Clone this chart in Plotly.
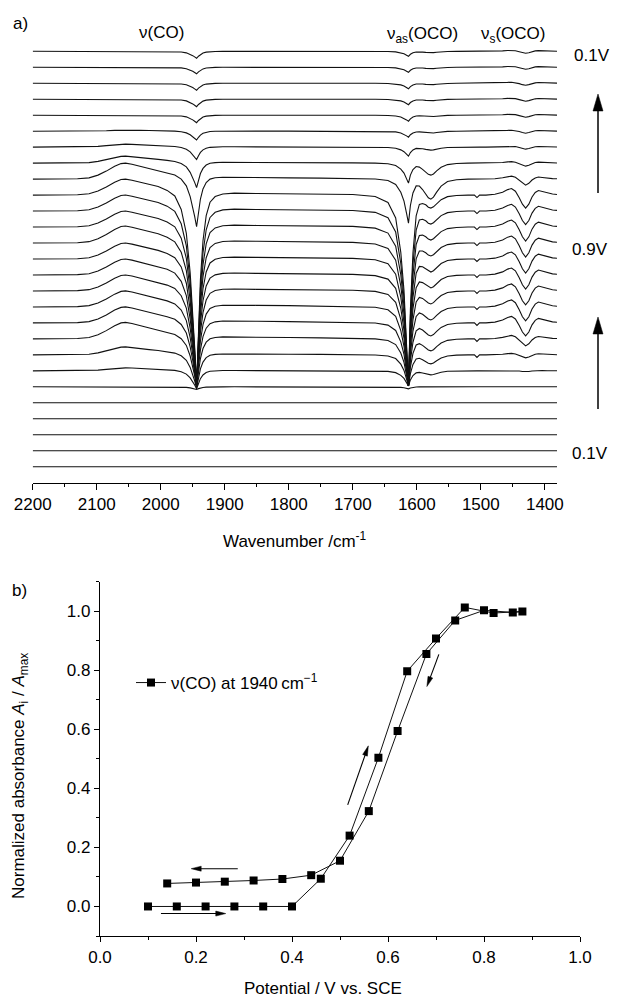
import plotly.graph_objects as go
import numpy as np

W, H = 617, 1001
def px(x): return x / W
def py(y): return 1 - y / H

FONT = "Liberation Sans"

# ---------------- panel a) : stacked IR spectra ----------------
WN = [2200, 2160, 2130, 2112, 2098, 2085, 2072, 2062, 2055, 2045,
      2032, 2018, 2004, 1990, 1978, 1968, 1960, 1954, 1950, 1947,
      1944, 1941, 1938, 1934, 1929, 1923, 1915, 1903, 1885, 1850,
      1800, 1750, 1700, 1665, 1645, 1633, 1625, 1620, 1616, 1613,
      1610, 1606, 1601, 1596, 1591, 1586, 1582, 1578, 1574, 1569,
      1562, 1552, 1538, 1520, 1510, 1506, 1502, 1492, 1478, 1466,
      1458, 1452, 1446, 1440, 1435, 1430, 1425, 1420, 1415, 1410,
      1404, 1396, 1388, 1381]

# band shapes (normalised), on the WN grid
SHAPE_BUMP = ([0, 0, 0.02, 0.08, 0.25, 0.5, 0.8, 0.97, 1.0, 0.93,
               0.8, 0.66, 0.54, 0.44, 0.37, 0.32, 0.28, 0.25, 0.23, 0.22,
               0.21, 0.2, 0.19, 0.18, 0.17, 0.16, 0.15, 0.14, 0.12, 0.1,
               0.08, 0.06, 0.04, 0.03, 0.02] + [0] * 39)
SHAPE_CO = ([0] * 13 + [-0.012, -0.035, -0.1, -0.22, -0.42, -0.62, -0.8,
             -1.0, -0.7, -0.45, -0.25, -0.12, -0.05, -0.02, -0.006] + [0] * 46)
SHAPE_OCO1 = ([0] * 33 + [-0.01, -0.04, -0.12, -0.3, -0.5, -0.78, -1.0,
              -0.6, -0.3, -0.1, -0.03, -0.01, 0, 0, 0, 0,
              0, 0] + [0] * 23)
SHAPE_OCO2 = ([0] * 41 + [-0.03, -0.12, -0.28, -0.5, -0.75, -0.93, -1.0, -0.9,
              -0.65, -0.35, -0.12, -0.03, 0] + [0] * 20)
SHAPE_NOTCH = [0] * 54 + [0, -1, 0] + [0] * 17
SHAPE_S = ([0] * 57 + [0, 0.06, 0.22, 0.42, 0.5, 0.3, -0.2, -0.7, -1.0, -0.7,
           -0.15, 0.2, 0.35, 0.28, 0.15, 0.08, 0.05])

# per-spectrum band amplitudes (top spectrum first, 27 spectra)
AMP_BUMP = [0, 0, 0, 0, 0, 1, 3, 7, 16, 16, 16, 16, 17, 16, 16, 16, 16, 16,
            16.5, 8, 3, 0, 0, 0, 0, 0, 0]
AMP_CO = [7, 6.5, 7, 7.5, 7.5, 9, 13, 26, 51, 194.4, 178.4, 162.4, 146.5,
          130.5, 114.5, 98.5, 82.5, 66.6, 50.6, 34.6, 18.6, 2.6, 0, 0, 0, 0, 0]
AMP_OCO1 = [5, 5, 5.5, 5.5, 6, 6, 9, 20, 44, 190.9, 174.9, 158.9, 143, 127,
            111, 95, 79, 63.1, 47.1, 31.1, 15.1, 2, 0, 0, 0, 0, 0]
AMP_OCO2 = [1.5, 1.5, 1.5, 1.5, 1.5, 2, 3, 12, 20, 13, 13, 13, 13, 13, 13, 13,
            13, 13, 12, 9, 4, 0, 0, 0, 0, 0, 0]
AMP_NOTCH = [0] * 9 + [2.5] * 11 + [0] * 7
AMP_S = [2, 2, 2, 2, 2, 2, 2, 3, 6, 13, 13.5, 14, 14, 14, 14, 14, 14, 13, 7,
         3, 1, 0, 0, 0, 0, 0, 0]
OFFSET = 15.98   # vertical stacking offset between spectra

# ---------------- panel b) : normalised absorbance ----------------
POTENTIAL = [0.10, 0.16, 0.22, 0.28, 0.34, 0.40, 0.46, 0.52, 0.58, 0.64, 0.70,
             0.76, 0.82, 0.88, 0.86, 0.80, 0.74, 0.68, 0.62, 0.56, 0.50, 0.44,
             0.38, 0.32, 0.26, 0.20, 0.14]
NORM_ABS = [0.0, 0.0, 0.0, 0.0, 0.0, 0.0, 0.094, 0.240, 0.504, 0.797, 0.908,
            1.013, 0.994, 0.999, 0.996, 1.003, 0.969, 0.855, 0.594, 0.323,
            0.155, 0.106, 0.093, 0.088, 0.084, 0.081, 0.078]

fig = go.Figure()

n = len(AMP_CO)
wn = np.array(WN, float)
for k in range(n):
    base = (n - 1 - k) * OFFSET
    y = (base + AMP_BUMP[k] * np.array(SHAPE_BUMP) + AMP_CO[k] * np.array(SHAPE_CO)
         + AMP_OCO1[k] * np.array(SHAPE_OCO1) + AMP_OCO2[k] * np.array(SHAPE_OCO2)
         + AMP_NOTCH[k] * np.array(SHAPE_NOTCH) + AMP_S[k] * np.array(SHAPE_S))
    fig.add_trace(go.Scatter(x=wn, y=y, mode="lines", xaxis="x", yaxis="y",
                             line=dict(color="#111111", width=1.1),
                             showlegend=False, hoverinfo="skip"))

fig.add_trace(go.Scatter(x=POTENTIAL, y=NORM_ABS, mode="lines+markers",
                         xaxis="x2", yaxis="y2",
                         name="\u03bd(CO) at 1940\u2009cm<sup>\u22121</sup>",
                         line=dict(color="#111111", width=1),
                         marker=dict(symbol="square", size=8, color="black"),
                         showlegend=True))

axis_common = dict(showline=True, linecolor="black", linewidth=1.2, ticks="outside",
                   tickcolor="black", tickwidth=1.2, showgrid=False, zeroline=False,
                   automargin=False,
                   tickfont=dict(family=FONT, size=17, color="black"))

top_units = (n - 1) * OFFSET + (466.7 - 40) - (466.7 - 51.3)  # data value at top of panel

X2_DOM = (100, 580)      # pixel extent of panel b) x axis
Y2_DOM = (936, 581.7)    # pixel extent of panel b) y axis (bottom, top)
X2_RANGE = (0, 1.0)
Y2_RANGE = (-0.1, 1.1)

fig.update_layout(
    template="none",
    width=W, height=H, margin=dict(l=0, r=0, t=0, b=0, pad=0, autoexpand=False),
    paper_bgcolor="white", plot_bgcolor="white",
    font=dict(family=FONT, size=17, color="black"),
    xaxis=dict(domain=[px(32.7), px(557)], range=[2200, 1381], anchor="y",
               tickmode="array", tickvals=[2200, 2100, 2000, 1900, 1800, 1700, 1600, 1500, 1400],
               ticklen=6, minor=dict(tickmode="array",
                                    tickvals=[2150, 2050, 1950, 1850, 1750, 1650, 1550, 1450],
                                    ticks="outside", ticklen=3, tickcolor="black", tickwidth=1.2),
               **axis_common),
    yaxis=dict(domain=[py(482.7), py(40)], range=[-16, top_units],
               visible=False, anchor="x", automargin=False),
    xaxis2=dict(domain=[px(X2_DOM[0]), px(X2_DOM[1])], range=list(X2_RANGE), anchor="y2",
                dtick=0.2, tickformat=".1f", ticklen=5,
                minor=dict(dtick=0.1, ticks="outside", ticklen=3, tickcolor="black", tickwidth=1.2),
                **axis_common),
    yaxis2=dict(domain=[py(Y2_DOM[0]), py(Y2_DOM[1])], range=list(Y2_RANGE), anchor="x2",
                tickvals=[0, 0.2, 0.4, 0.6, 0.8, 1.0], tickformat=".1f", ticklen=5,
                minor=dict(tickvals=[-0.1, 0.1, 0.3, 0.5, 0.7, 0.9, 1.1], ticks="outside",
                           ticklen=3, tickcolor="black", tickwidth=1.2),
                **axis_common),
    legend=dict(x=px(131), y=py(683), xanchor="left", yanchor="middle",
                bgcolor="rgba(0,0,0,0)", font=dict(family=FONT, size=17, color="black"),
                itemwidth=30),
)

ann = []
def text(x, y, s, size=17, **kw):
    d = dict(x=px(x), y=py(y), xref="paper", yref="paper", text=s, showarrow=False,
             font=dict(family=FONT, size=size, color="black"),
             xanchor="center", yanchor="middle")
    d.update(kw)
    ann.append(d)

text(20, 24, "a)")
text(19, 590, "b)")
text(161, 33, "\u03bd(CO)")
text(422, 35, "\u03bd<sub>as</sub>(OCO)")
text(513, 35, "\u03bd<sub>s</sub>(OCO)")
text(592, 55, "0.1V")
text(590, 249, "0.9V")
text(590, 453, "0.1V")
text(295, 540, "Wavenumber /cm<sup>-1</sup>")
text(323, 988, "Potential / V vs. SCE")
text(20, 776, "Normalized absorbance <i>A</i><sub>i</sub> / <i>A</i><sub>max</sub>", textangle=-90)
fig.update_layout(annotations=ann)

# arrows drawn as shapes (line + filled head), coordinates in figure pixels
shapes = []
def arrow(x0, y0, x1, y1, head_len, head_w, lw):
    d = np.array([x1 - x0, y1 - y0], float)
    L = np.hypot(*d)
    u = d / L
    nrm = np.array([-u[1], u[0]])
    base = np.array([x1, y1]) - u * head_len
    shapes.append(dict(type="line", xref="paper", yref="paper",
                       x0=px(x0), y0=py(y0), x1=px(base[0] + u[0] * 1.0), y1=py(base[1] + u[1] * 1.0),
                       line=dict(color="black", width=lw)))
    p1 = base + nrm * head_w / 2
    p2 = base - nrm * head_w / 2
    path = "M {:.5f},{:.5f} L {:.5f},{:.5f} L {:.5f},{:.5f} Z".format(
        px(x1), py(y1), px(p1[0]), py(p1[1]), px(p2[0]), py(p2[1]))
    shapes.append(dict(type="path", xref="paper", yref="paper", path=path,
                       fillcolor="black", line=dict(color="black", width=0.5)))

def to_pix(v, a):
    xp = X2_DOM[0] + (v - X2_RANGE[0]) / (X2_RANGE[1] - X2_RANGE[0]) * (X2_DOM[1] - X2_DOM[0])
    yp = Y2_DOM[0] + (a - Y2_RANGE[0]) / (Y2_RANGE[1] - Y2_RANGE[0]) * (Y2_DOM[1] - Y2_DOM[0])
    return xp, yp

# vertical arrows of panel a)
arrow(598, 193, 598, 94, 17, 10, 1.5)
arrow(598, 409, 598, 317, 17, 10, 1.5)

# sweep-direction arrows of panel b) (given in data units)
for (v0, a0, v1, a1) in [(0.127, -0.024, 0.262, -0.024), (0.287, 0.128, 0.19, 0.128),
                         (0.516, 0.344, 0.559, 0.544), (0.706, 0.854, 0.681, 0.745)]:
    xa, ya = to_pix(v0, a0)
    xb, yb = to_pix(v1, a1)
    arrow(xa, ya, xb, yb, 10, 5, 1.1)

fig.update_layout(shapes=shapes)
fig.write_html("out.html")
